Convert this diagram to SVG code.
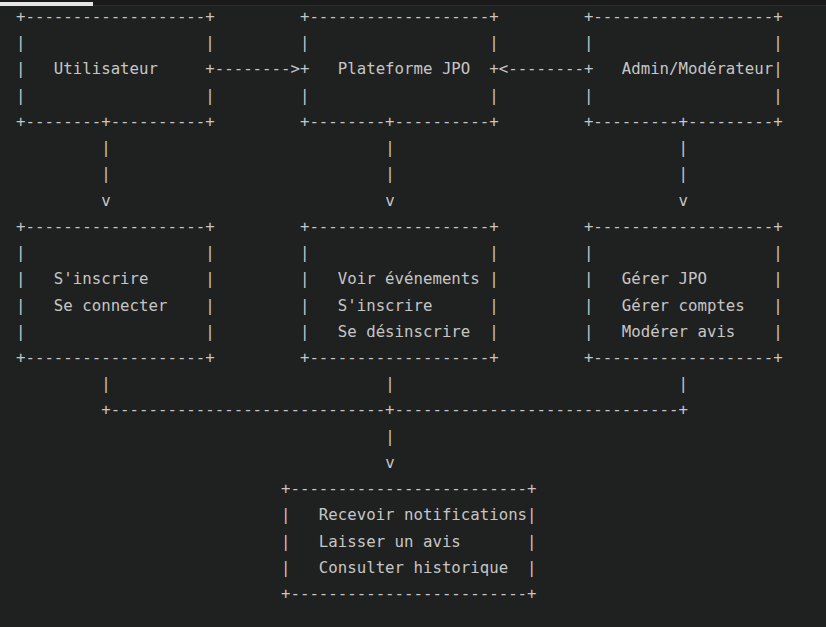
<svg xmlns="http://www.w3.org/2000/svg" width="826" height="627" viewBox="0 0 826 627">
  <style>
    .t { font-family: "DejaVu Sans Mono", "Liberation Mono", monospace; font-size: 15.72px; fill: #c6c6c6; white-space: pre; }
  </style>
  <!-- editor background and tab strip -->
  <rect x="0" y="0" width="826" height="627" fill="#1f2020"/>
  <rect x="0" y="0" width="826" height="5" fill="#1a1a1a"/>
  <rect x="0" y="5" width="826" height="1" fill="#2b2c2c"/>
  <rect x="0" y="2" width="93" height="4" fill="#e6e6e6"/>

  <!-- Utilisateur -->
  <g id="utilisateur">
    <text class="t" xml:space="preserve" x="16" y="22"><tspan x="16">+-------------------+</tspan><tspan x="16" dy="26.23">|                   |</tspan><tspan x="16" dy="26.23">|   Utilisateur     +</tspan><tspan x="16" dy="26.23">|                   |</tspan><tspan x="16" dy="26.23">+--------+----------+</tspan></text>
  </g>

  <!-- Plateforme JPO -->
  <g id="plateforme">
    <text class="t" xml:space="preserve" x="299.95" y="22"><tspan x="299.95">+-------------------+</tspan><tspan x="299.95" dy="26.23">|                   |</tspan><tspan x="299.95" dy="26.23">+   Plateforme JPO  +</tspan><tspan x="299.95" dy="26.23">|                   |</tspan><tspan x="299.95" dy="26.23">+--------+----------+</tspan></text>
  </g>

  <!-- Admin/Modérateur -->
  <g id="admin">
    <text class="t" xml:space="preserve" x="583.9" y="22"><tspan x="583.9">+-------------------+</tspan><tspan x="583.9" dy="26.23">|                   |</tspan><tspan x="583.9" dy="26.23">+   Admin/Modérateur|</tspan><tspan x="583.9" dy="26.23">|                   |</tspan><tspan x="583.9" dy="26.23">+---------+---------+</tspan></text>
  </g>

  <!-- user actions -->
  <g id="actions-utilisateur">
    <text class="t" xml:space="preserve" x="16" y="231.84"><tspan x="16">+-------------------+</tspan><tspan x="16" dy="26.23">|                   |</tspan><tspan x="16" dy="26.23">|   S'inscrire      |</tspan><tspan x="16" dy="26.23">|   Se connecter    |</tspan><tspan x="16" dy="26.23">|                   |</tspan><tspan x="16" dy="26.23">+-------------------+</tspan></text>
  </g>

  <!-- platform actions -->
  <g id="actions-plateforme">
    <text class="t" xml:space="preserve" x="299.95" y="231.84"><tspan x="299.95">+-------------------+</tspan><tspan x="299.95" dy="26.23">|                   |</tspan><tspan x="299.95" dy="26.23">|   Voir événements |</tspan><tspan x="299.95" dy="26.23">|   S'inscrire      |</tspan><tspan x="299.95" dy="26.23">|   Se désinscrire  |</tspan><tspan x="299.95" dy="26.23">+-------------------+</tspan></text>
  </g>

  <!-- admin actions -->
  <g id="actions-admin">
    <text class="t" xml:space="preserve" x="583.9" y="231.84"><tspan x="583.9">+-------------------+</tspan><tspan x="583.9" dy="26.23">|                   |</tspan><tspan x="583.9" dy="26.23">|   Gérer JPO       |</tspan><tspan x="583.9" dy="26.23">|   Gérer comptes   |</tspan><tspan x="583.9" dy="26.23">|   Modérer avis    |</tspan><tspan x="583.9" dy="26.23">+-------------------+</tspan></text>
  </g>

  <!-- shared features -->
  <g id="fonctions-communes">
    <text class="t" xml:space="preserve" x="281.02" y="494.14"><tspan x="281.02">+-------------------------+</tspan><tspan x="281.02" dy="26.23">|   Recevoir notifications|</tspan><tspan x="281.02" dy="26.23">|   Laisser un avis       |</tspan><tspan x="281.02" dy="26.23">|   Consulter historique  |</tspan><tspan x="281.02" dy="26.23">+-------------------------+</tspan></text>
  </g>

  <!-- connectors -->
  <g id="connectors">
    <text class="t" xml:space="preserve" x="214.77" y="74.46">--------&gt;</text>
    <text class="t" xml:space="preserve" x="498.72" y="74.46">&lt;--------</text>

    <text class="t" x="101.19" y="153.15">|</text>
    <text class="t" x="101.19" y="179.38">|</text>
    <text class="t" x="101.19" y="205.61">v</text>
    <text class="t" x="385.14" y="153.15">|</text>
    <text class="t" x="385.14" y="179.38">|</text>
    <text class="t" x="385.14" y="205.61">v</text>
    <text class="t" x="678.55" y="153.15">|</text>
    <text class="t" x="678.55" y="179.38">|</text>
    <text class="t" x="678.55" y="205.61">v</text>

    <text class="t" x="101.19" y="389.22">|</text>
    <text class="t" x="385.14" y="389.22">|</text>
    <text class="t" x="678.55" y="389.22">|</text>
    <text class="t" xml:space="preserve" x="101.19" y="415.45">+-----------------------------+------------------------------+</text>
    <text class="t" x="385.14" y="441.68">|</text>
    <text class="t" x="385.14" y="467.91">v</text>
  </g>
</svg>
